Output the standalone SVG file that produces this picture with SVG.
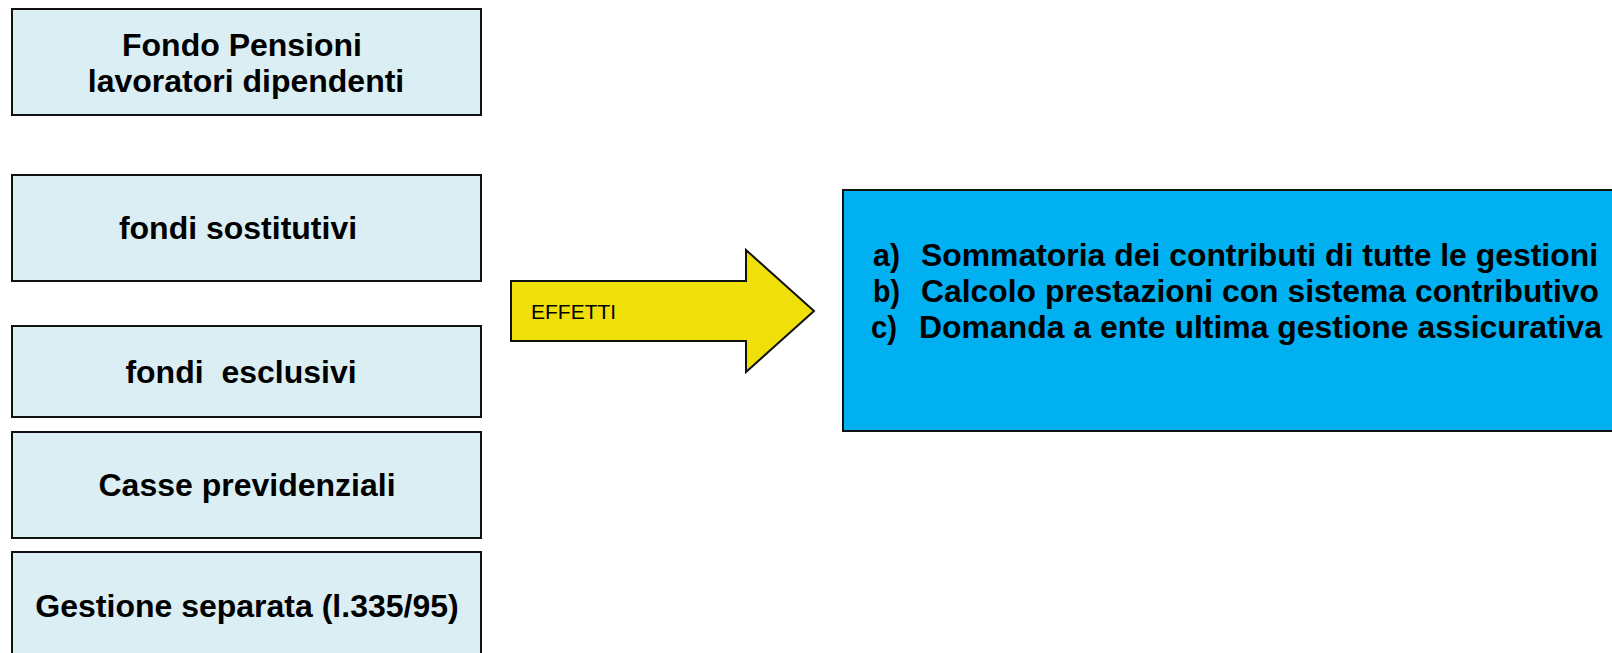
<svg xmlns="http://www.w3.org/2000/svg" width="1612" height="653" viewBox="0 0 1612 653">
<style>
.box{fill:#DAEEF3;stroke:#111;stroke-width:2}
.lbl{font-family:"Liberation Sans",Arial,sans-serif;font-weight:bold;font-size:32px;fill:#000;text-anchor:middle}
.rt{font-family:"Liberation Sans",Arial,sans-serif;font-weight:bold;font-size:32px;fill:#000}
</style>
<rect width="1612" height="653" fill="#fff"/>
<g id="n1"><rect class="box" x="12" y="9" width="469" height="106"/>
<text class="lbl" x="242" y="56">Fondo Pensioni</text>
<text class="lbl" x="246" y="92">lavoratori dipendenti</text></g>
<g id="n2"><rect class="box" x="12" y="175" width="469" height="106"/>
<text class="lbl" x="238" y="239">fondi sostitutivi</text></g>
<g id="n3"><rect class="box" x="12" y="326" width="469" height="91"/>
<text class="lbl" x="241" y="383" xml:space="preserve">fondi  esclusivi</text></g>
<g id="n4"><rect class="box" x="12" y="432" width="469" height="106"/>
<text class="lbl" x="247" y="496">Casse previdenziali</text></g>
<g id="n5"><rect class="box" x="12" y="552" width="469" height="120"/>
<text class="lbl" x="247" y="617">Gestione separata (l.335/95)</text></g>
<g id="connectors">
<g id="arrow"><polygon points="511,281 746,281 746,250 814,311 746,372 746,341 511,341" fill="#F0E00A" stroke="#111" stroke-width="2"/>
<text x="531" y="319" font-family="Liberation Sans,Arial,sans-serif" font-size="21" fill="#000">EFFETTI</text></g>
</g>
<g id="n6"><rect x="843" y="190" width="790" height="241" fill="#00B0F0" stroke="#111" stroke-width="2"/>
<text class="rt" x="873" y="266" textLength="27" lengthAdjust="spacingAndGlyphs">a)</text>
<text class="rt" x="921" y="266" textLength="677" lengthAdjust="spacingAndGlyphs">Sommatoria dei contributi di tutte le gestioni</text>
<text class="rt" x="873" y="302" textLength="27" lengthAdjust="spacingAndGlyphs">b)</text>
<text class="rt" x="921" y="302" textLength="678" lengthAdjust="spacingAndGlyphs">Calcolo prestazioni con sistema contributivo</text>
<text class="rt" x="871" y="338" textLength="26" lengthAdjust="spacingAndGlyphs">c)</text>
<text class="rt" x="919" y="338" textLength="683" lengthAdjust="spacingAndGlyphs">Domanda a ente ultima gestione assicurativa</text>
</g>
</svg>
